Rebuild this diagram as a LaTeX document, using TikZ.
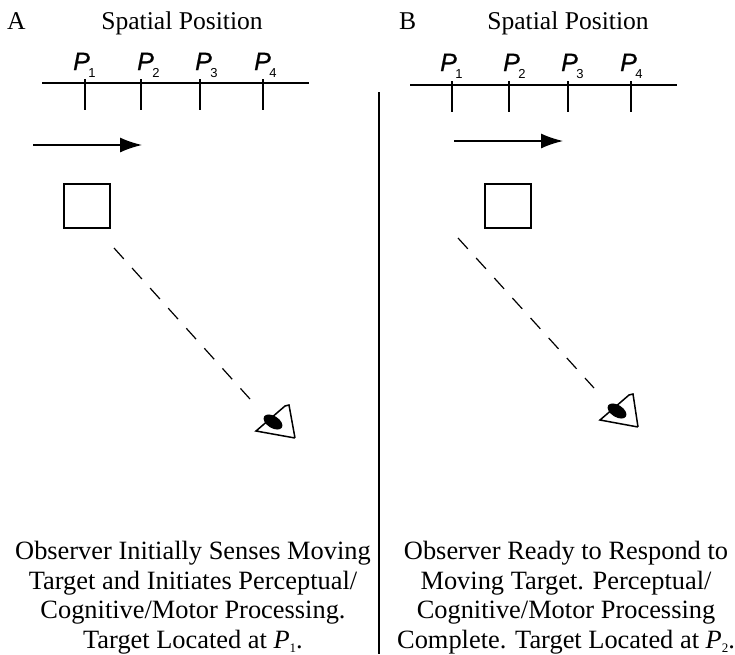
\documentclass[tikz,border=0pt]{standalone}
\usepackage{fontspec}
\setmainfont{Liberation Serif}
\setsansfont{Liberation Sans}
\newfontfamily\posfont[ItalicFeatures={FakeBold=0.7}]{Liberation Sans}
\usetikzlibrary{arrows.meta}
\newcommand{\posmark}[1]{{\posfont\itshape P}\raisebox{-7pt}{\fontsize{13}{14}\selectfont\hspace{-1.5pt}#1}}
\newcommand{\capsub}[1]{\textit{P}\raisebox{-4pt}{\fontsize{13}{15}\selectfont #1}}
\tikzset{%
  >={Latex[width=15pt,length=22pt]},
  % Specifications for style of nodes:
            base1/.style = {inner sep=0pt, font=\fontsize{25.6}{30}\selectfont},
       panellabel/.style = {base1, anchor=base west},
       headlabel/.style = {base1, anchor=base},
       captionbox/.style = {inner sep=0pt, align=center, anchor=north,
                           font=\fontsize{26.4}{29.6}\selectfont},
       poslabel/.style = {inner sep=0pt, anchor=base west,
                           font=\sffamily\fontsize{25}{28}\selectfont},
       targetbox/.style = {rectangle, draw=black, line width=1.2pt, inner sep=0pt,
                           minimum width=46pt, minimum height=44pt},
       axisline/.style = {line width=1.3pt},
       motionline/.style = {line width=1.3pt, ->},
       sightline/.style = {line width=1.2pt, dash pattern=on 14.6pt off 12.4pt},
       eyeline/.style = {line width=1.5pt},
       pupil/.style = {fill=black, draw=none}
}
\begin{document}
\begin{tikzpicture}[x=1pt, y=-1pt]
  \useasboundingbox (0,0) rectangle (735,654);
  % Left panel
  \node (labela)	[panellabel] at (7,29) {A};
  \node (heada)		[headlabel] at (182,29) {Spatial Position};
  \coordinate (axisal) at (42,83);
  \coordinate (axisar) at (309,83);
  \draw[axisline]	(axisal) -- (axisar);
  \foreach \n/\x/\p in {1/85/73,2/141/137,3/200/195,4/263/254}{
    \coordinate (ticka\n t) at (\x,79);
    \coordinate (ticka\n b) at (\x,110);
    \draw[axisline]	(ticka\n t) -- (ticka\n b);
    \node (posa\n)	[poslabel] at (\p,70) {\posmark{\n}};
  }
  \coordinate (motionas) at (33,145);
  \coordinate (motionae) at (142,145);
  \draw[motionline]	(motionas) -- (motionae);
  \node (targeta)	[targetbox] at (87,206) {};
  \coordinate (sightas) at (114,248);
  \coordinate (sightae) at (250,399);
  \draw[sightline]	(sightas) -- (sightae);
  % Eye, left
  \coordinate (eyea1) at (256,431);
  \coordinate (eyea2) at (285,406);
  \coordinate (eyea3) at (295,438);
  \coordinate (eyea4) at (289,405);
  \draw[eyeline]	(eyea3) -- (eyea1) -- (eyea2) -- (eyea4) -- (eyea3);
  \fill[pupil, rotate around={-32:(273,422)}] (273,422) ellipse [x radius=10.5, y radius=6];
  \node (capa)		[captionbox] at (193,541) {Observer Initially Senses Moving\\
    Target and Initiates Perceptual/\\ Cognitive/Motor Processing.\\
    Target Located at \capsub{1}.};
  % Divider
  \coordinate (divt) at (379,92);
  \coordinate (divb) at (379,654);
  \draw[axisline]	(divt) -- (divb);
  % Right panel
  \node (labelb)	[panellabel] at (399,29) {B};
  \node (headb)		[headlabel] at (568,29) {Spatial Position};
  \coordinate (axisbl) at (410,85);
  \coordinate (axisbr) at (677,85);
  \draw[axisline]	(axisbl) -- (axisbr);
  \foreach \n/\x/\p in {1/452/440,2/509/503,3/568/561,4/631/620}{
    \coordinate (tickb\n t) at (\x,81);
    \coordinate (tickb\n b) at (\x,112);
    \draw[axisline]	(tickb\n t) -- (tickb\n b);
    \node (posb\n)	[poslabel] at (\p,71) {\posmark{\n}};
  }
  \coordinate (motionbs) at (454,141);
  \coordinate (motionbe) at (563,141);
  \draw[motionline]	(motionbs) -- (motionbe);
  \node (targetb)	[targetbox] at (508,206) {};
  \coordinate (sightbs) at (458,238);
  \coordinate (sightbe) at (594,388);
  \draw[sightline]	(sightbs) -- (sightbe);
  % Eye, right
  \coordinate (eyeb1) at (600,420);
  \coordinate (eyeb2) at (629,395);
  \coordinate (eyeb3) at (638,427);
  \coordinate (eyeb4) at (633,394);
  \draw[eyeline]	(eyeb3) -- (eyeb1) -- (eyeb2) -- (eyeb4) -- (eyeb3);
  \fill[pupil, rotate around={-32:(617,411)}] (617,411) ellipse [x radius=10.5, y radius=6];
  \node (capb)		[captionbox] at (566,541) {Observer Ready to Respond to\\
    Moving Target. Perceptual/\\ Cognitive/Motor Processing\\
    Complete. Target Located at \capsub{2}.};
\end{tikzpicture}
\end{document}
